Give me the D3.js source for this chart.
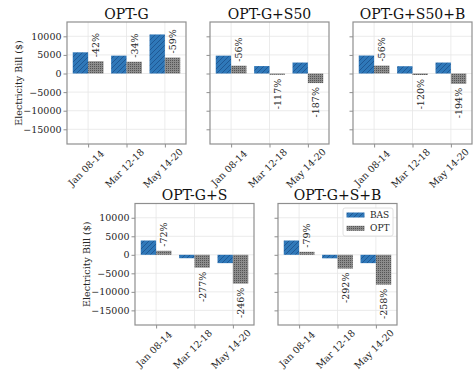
<!DOCTYPE html>
<html><head><meta charset="utf-8">
<script src="https://cdn.jsdelivr.net/npm/d3@7"></script>
<style>body{margin:0;background:#fff}svg{display:block}text{font-family:"DejaVu Serif",serif}</style>
</head><body>
<svg id="c" width="473" height="373"></svg>
<script>
const categories = ["Jan 08-14", "Mar 12-18", "May 14-20"];
const titles = ["OPT-G", "OPT-G+S50", "OPT-G+S50+B", "OPT-G+S", "OPT-G+S+B"];
const basValues = [
  [5700, 4800, 10500],
  [4800, 2000, 2950],
  [4830, 1960, 2950],
  [3860, -920, -2250],
  [3860, -950, -2250]
];
const optValues = [
  [3300, 3170, 4300],
  [2100, -340, -2570],
  [2125, -390, -2770],
  [1080, -3470, -7780],
  [810, -3720, -8050]
];
const pctLabels = [
  ["-42%", "-34%", "-59%"],
  ["-56%", "-117%", "-187%"],
  ["-56%", "-120%", "-194%"],
  ["-72%", "-277%", "-246%"],
  ["-79%", "-292%", "-258%"]
];
const yTicks = [-15000, -10000, -5000, 0, 5000, 10000];
const seriesNames = ["BAS", "OPT"];
const yLabel = "Electricity Bill ($)";

const svg = d3.select("#c");
const defs = svg.append("defs");
// blue hatch
const p1 = defs.append("pattern").attr("id", "hatchBlue").attr("patternUnits", "userSpaceOnUse")
  .attr("width", 5).attr("height", 5);
p1.append("rect").attr("width", 5).attr("height", 5).attr("fill", "#2f78b9");
p1.append("path").attr("d", "M-1,1 L1,-1 M0,5 L5,0 M4,6 L6,4").attr("stroke", "#1d5590").attr("stroke-width", 0.9);
// grey dots
const p2 = defs.append("pattern").attr("id", "dotGrey").attr("patternUnits", "userSpaceOnUse")
  .attr("width", 2).attr("height", 2);
p2.append("rect").attr("width", 2).attr("height", 2).attr("fill", "#8c8c8c");
p2.append("rect").attr("width", 1).attr("height", 1).attr("fill", "#555");

const layout = [
  {x0: 67, x1: 186, y0: 22, y1: 144},
  {x0: 210, x1: 329, y0: 22, y1: 144},
  {x0: 353, x1: 472, y0: 22, y1: 144},
  {x0: 135, x1: 254, y0: 203.5, y1: 325},
  {x0: 278, x1: 397, y0: 203.5, y1: 325}
];
const showYLabels = [true, false, false, true, false];
const fmt = d3.format("d");
const spine = "#8f8f8f";
const textCol = "#262626";

titles.forEach((title, i) => {
  const L = layout[i];
  const x = d3.scaleLinear().domain([-0.55, categories.length - 0.45]).range([L.x0, L.x1]);
  const y = d3.scaleLinear().domain([-18950, 13850]).range([L.y1, L.y0]);
  const g = svg.append("g");
  // grid
  g.selectAll(".gy").data(yTicks).join("line")
    .attr("x1", L.x0).attr("x2", L.x1).attr("y1", d => y(d)).attr("y2", d => y(d))
    .attr("stroke", "#e6e6e6").attr("stroke-width", 0.8);
  g.selectAll(".gx").data(categories).join("line")
    .attr("x1", (d, j) => x(j)).attr("x2", (d, j) => x(j)).attr("y1", L.y0).attr("y2", L.y1)
    .attr("stroke", "#e6e6e6").attr("stroke-width", 0.8);
  const bw = 0.4;
  // BAS bars
  g.selectAll(".bas").data(basValues[i]).join("rect")
    .attr("x", (d, j) => x(j - bw)).attr("width", (d, j) => x(j) - x(j - bw))
    .attr("y", d => y(Math.max(0, d))).attr("height", d => Math.abs(y(d) - y(0)))
    .attr("fill", "url(#hatchBlue)");
  // OPT bars
  g.selectAll(".opt").data(optValues[i]).join("rect")
    .attr("x", (d, j) => x(j)).attr("width", (d, j) => x(j + bw) - x(j))
    .attr("y", d => y(Math.max(0, d))).attr("height", d => Math.abs(y(d) - y(0)))
    .attr("fill", "url(#dotGrey)");
  // percentage labels
  g.selectAll(".pct").data(optValues[i]).join("text")
    .attr("transform", (d, j) => {
      const px = x(j + bw / 2);
      const py = d >= 0 ? y(d) - 4 : y(d) + 4;
      return `translate(${px},${py}) rotate(-90)`;
    })
    .attr("text-anchor", d => d >= 0 ? "start" : "end")
    .attr("dominant-baseline", "central")
    .attr("font-size", 9.5).attr("fill", textCol)
    .text((d, j) => pctLabels[i][j]);
  // frame
  g.append("rect").attr("x", L.x0).attr("y", L.y0).attr("width", L.x1 - L.x0).attr("height", L.y1 - L.y0)
    .attr("fill", "none").attr("stroke", spine).attr("stroke-width", 1.2);
  // y axis
  const ya = d3.axisLeft(y).tickValues(yTicks).tickSize(3.5).tickPadding(2)
    .tickFormat(showYLabels[i] ? fmt : () => "");
  const yg = g.append("g").attr("transform", `translate(${L.x0},0)`).call(ya);
  yg.select(".domain").remove();
  yg.selectAll("line").attr("stroke", spine);
  yg.selectAll("text").attr("font-size", 9.5).attr("fill", textCol).attr("font-family", "DejaVu Serif");
  // x axis
  const xa = d3.axisBottom(x).tickValues(categories.map((c, j) => j)).tickSize(3.5).tickFormat(() => "");
  const xg = g.append("g").attr("transform", `translate(0,${L.y1})`).call(xa);
  xg.select(".domain").remove();
  xg.selectAll("line").attr("stroke", spine);
  g.selectAll(".xl").data(categories).join("text")
    .attr("transform", (d, j) => `translate(${x(j) - 2},${L.y1 + 24}) rotate(-45)`)
    .attr("text-anchor", "middle").attr("dominant-baseline", "central")
    .attr("font-size", 9.5).attr("fill", textCol).text(d => d);
  // title
  g.append("text").attr("x", (L.x0 + L.x1) / 2).attr("y", L.y0 - 3.5)
    .attr("text-anchor", "middle").attr("font-size", 14).attr("fill", "#111").text(title);
  if (showYLabels[i]) {
    g.append("text").attr("transform", `translate(${L.x0 - 49},${(L.y0 + L.y1) / 2}) rotate(-90)`)
      .attr("text-anchor", "middle").attr("dominant-baseline", "central")
      .attr("font-size", 9.5).attr("fill", textCol).text(yLabel);
  }
  if (i === titles.length - 1) {
    const lg = g.append("g").attr("transform", `translate(${L.x1 - 54},${L.y0 + 4.5})`);
    lg.append("rect").attr("width", 50).attr("height", 28).attr("rx", 2)
      .attr("fill", "#fff").attr("fill-opacity", 0.85).attr("stroke", "#d8d8d8").attr("stroke-width", 0.8);
    const fills = ["url(#hatchBlue)", "url(#dotGrey)"];
    seriesNames.forEach((s, k) => {
      lg.append("rect").attr("x", 3.5).attr("y", 4.5 + k * 13.3).attr("width", 18).attr("height", 5)
        .attr("fill", fills[k]);
      lg.append("text").attr("x", 27).attr("y", 7 + k * 13.3).attr("dominant-baseline", "central")
        .attr("font-size", 9).attr("fill", textCol).text(s);
    });
  }
});
</script>
</body></html>
